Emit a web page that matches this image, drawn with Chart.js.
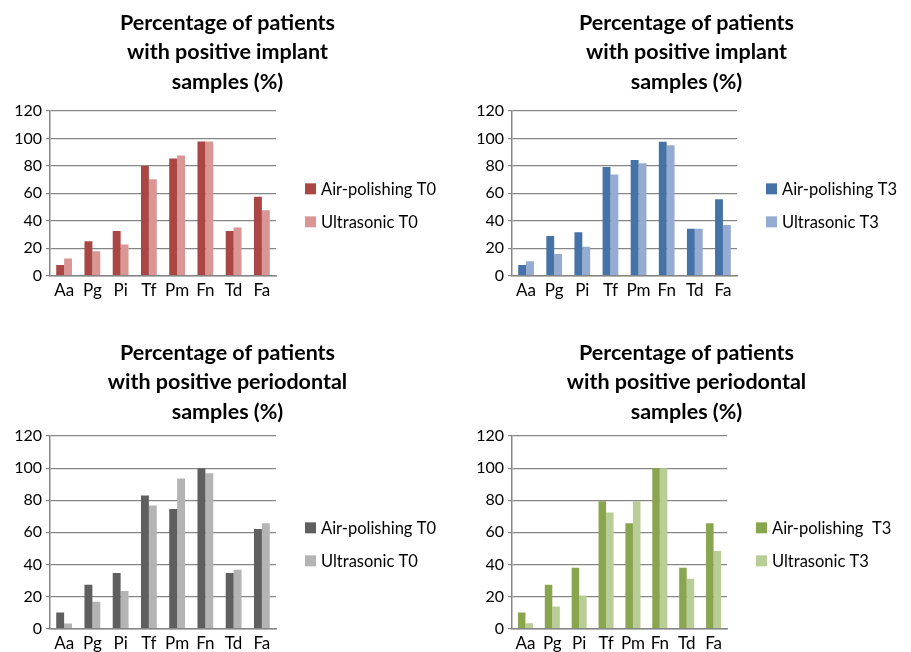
<!DOCTYPE html>
<html>
<head>
<meta charset="utf-8">
<script src="https://cdn.jsdelivr.net/npm/chart.js@4.4.1/dist/chart.umd.min.js"></script>
<style>
  html, body { margin: 0; padding: 0; background: #fff; overflow: hidden; }
  #wrap { position: relative; width: 911px; height: 652px; overflow: hidden; }
  .panel { position: absolute; }
</style>
</head>
<body>
<div id="wrap">
  <div class="panel" style="left:0;top:0;width:455px;height:310px"><canvas id="c1"></canvas></div>
  <div class="panel" style="left:455px;top:0;width:456px;height:310px"><canvas id="c2"></canvas></div>
  <div class="panel" style="left:0;top:326px;width:455px;height:333px"><canvas id="c3"></canvas></div>
  <div class="panel" style="left:455px;top:326px;width:456px;height:333px"><canvas id="c4"></canvas></div>
</div>
<script>
// Datos de las cuatro gráficas
const categories = ['Aa', 'Pg', 'Pi', 'Tf', 'Pm', 'Fn', 'Td', 'Fa'];
const yTicks = [0, 20, 40, 60, 80, 100, 120];

const titleImplant = ['Percentage of patients', 'with positive implant', 'samples (%)'];
const titlePerio = ['Percentage of patients', 'with positive periodontal', 'samples (%)'];

const implantAirT0 = [7.7, 25, 32.5, 80, 85.5, 97.8, 32.5, 57.5];
const implantUltraT0 = [12.4, 17.7, 22.6, 70.2, 87.6, 97.8, 35.1, 47.6];
const implantAirT3 = [7.8, 28.9, 31.6, 79.2, 84.3, 97.6, 34.2, 55.6];
const implantUltraT3 = [10.5, 15.8, 21, 73.7, 81.9, 95, 34.2, 36.9];

const perioAirT0 = [10.1, 27.3, 34.7, 83, 74.5, 100, 34.7, 62.1];
const perioUltraT0 = [3.2, 16.7, 23.4, 76.7, 93.6, 96.8, 36.7, 65.6];
const perioAirT3 = [10.1, 27.3, 37.9, 79.3, 65.6, 100, 37.9, 65.6];
const perioUltraT3 = [3.4, 13.8, 20.7, 72.4, 79.3, 100, 31, 48.3];

const FONT = 'Lato, "Liberation Sans", sans-serif';
const AXIS_GREY = '#868686';

// Leyenda a la derecha del área de trazado (la de Chart.js se recorta)
const sideLegend = {
  id: 'sideLegend',
  afterDraw(chart) {
    const { ctx, chartArea } = chart;
    const x = chartArea.right + 29;
    const mid = (chartArea.top + chartArea.bottom) / 2 + 12;
    ctx.save();
    ctx.font = '16.5px ' + FONT;
    ctx.textBaseline = 'middle';
    chart.data.datasets.forEach((ds, i) => {
      const y = mid + (i - 0.5) * 33;
      ctx.fillStyle = ds.backgroundColor;
      ctx.fillRect(x, y - 5.5, 11, 11);
      ctx.fillStyle = '#000';
      ctx.fillText(ds.label, x + 16, y + 1);
    });
    ctx.restore();
  }
};

function makeChart(id, title, names, seriesA, seriesB, colors, pad, rightSpace, titlePad) {
  const ctx = document.getElementById(id).getContext('2d');
  return new Chart(ctx, {
    type: 'bar',
    data: {
      labels: categories,
      datasets: [
        { label: names[0], data: seriesA, backgroundColor: colors[0] },
        { label: names[1], data: seriesB, backgroundColor: colors[1] }
      ]
    },
    plugins: [sideLegend],
    options: {
      responsive: true,
      maintainAspectRatio: false,
      animation: false,
      layout: { padding: pad },
      datasets: { bar: { categoryPercentage: 0.56, barPercentage: 1.0 } },
      plugins: {
        title: {
          display: true,
          text: title,
          color: '#000',
          font: { family: FONT, size: 21.5, weight: 'bold', lineHeight: 1.35 },
          padding: { top: 0, bottom: titlePad }
        },
        legend: { display: false },
        tooltip: { enabled: false }
      },
      scales: {
        x: {
          grid: { display: false, drawTicks: false },
          border: { color: AXIS_GREY, width: 1.5 },
          ticks: {
            color: '#000', font: { family: FONT, size: 17 }, padding: 5,
            autoSkip: false, minRotation: 0, maxRotation: 0
          }
        },
        y: {
          min: 0,
          max: 120,
          afterBuildTicks: s => { s.ticks = yTicks.map(v => ({ value: v })); },
          afterFit: s => { s.width = 50; },
          grid: { color: AXIS_GREY, lineWidth: 1.2, tickLength: 4 },
          border: { color: AXIS_GREY, width: 1.5 },
          ticks: { color: '#000', font: { family: FONT, size: 16 }, padding: 4 }
        },
        // espacio vacío a la derecha, donde va la leyenda
        legendSpace: {
          position: 'right',
          afterFit: s => { s.width = rightSpace; },
          grid: { display: false, drawTicks: false },
          border: { display: false },
          ticks: { display: false }
        }
      }
    }
  });
}

makeChart('c1', titleImplant, ['Air-polishing T0', 'Ultrasonic T0'],
  implantAirT0, implantUltraT0, ['#AA4643', '#D99694'],
  { left: 0, right: 0, top: 9, bottom: 4 }, 179, 15);
makeChart('c2', titleImplant, ['Air-polishing T3', 'Ultrasonic T3'],
  implantAirT3, implantUltraT3, ['#4572A7', '#95ABD1'],
  { left: 7, right: 0, top: 9, bottom: 4 }, 174, 15);
makeChart('c3', titlePerio, ['Air-polishing T0', 'Ultrasonic T0'],
  perioAirT0, perioUltraT0, ['#5F5F5F', '#B4B4B4'],
  { left: 0, right: 0, top: 13, bottom: 0 }, 179, 10);
makeChart('c4', titlePerio, ['Air-polishing  T3', 'Ultrasonic T3'],
  perioAirT3, perioUltraT3, ['#89A54E', '#B9CE96'],
  { left: 7, right: 0, top: 13, bottom: 0 }, 184, 10);
</script>
</body>
</html>
